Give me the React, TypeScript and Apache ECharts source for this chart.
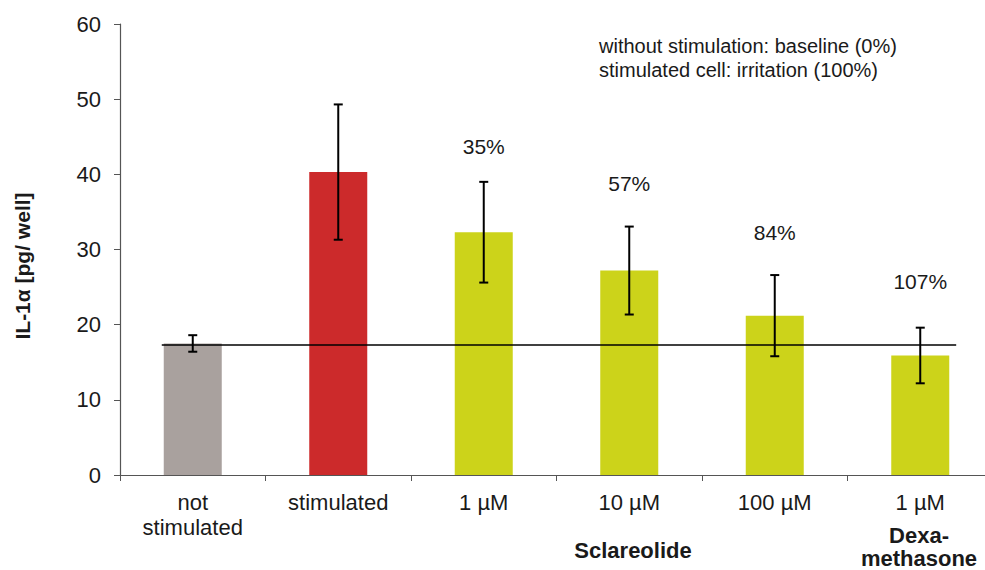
import React, { useEffect, useRef } from "react";
import * as echarts from "echarts";

const categories = ["not\nstimulated", "stimulated", "1 µM", "10 µM", "100 µM", "1 µM"];
const means = [17.5, 40.3, 32.3, 27.2, 21.2, 15.9];
const errors = [1.1, 9.0, 6.7, 5.85, 5.4, 3.7];
const barColors = ["#a9a19e", "#cc2a2b", "#ccd31a", "#ccd31a", "#ccd31a", "#ccd31a"];
const pctLabels = ["", "", "35%", "57%", "84%", "107%"];
const pctLabelY = [null, null, 43.7, 38.8, 32.3, 25.7];
const baseline = 17.3;
const yTicks = { min: 0, max: 60, interval: 10 };

const FONT = "'Liberation Sans', Arial, sans-serif";
const TXT = "#1a1a1a";

export default function App() {
  const ref = useRef<HTMLDivElement>(null);
  useEffect(() => {
    if (!ref.current) return;
    const chart = echarts.init(ref.current, null, { renderer: "svg" });
    const option: any = {
      animation: false,
      textStyle: { fontFamily: FONT },
      grid: { left: 120, top: 24, width: 873, height: 451, outerBoundsMode: "none", containLabel: false },
      xAxis: {
        type: "category",
        data: categories,
        axisLine: { lineStyle: { color: "#555", width: 1.2 } },
        axisTick: { show: true, length: 6, lineStyle: { color: "#555" } },
        axisLabel: {
          interval: 0,
          fontSize: 22,
          color: TXT,
          lineHeight: 25,
          verticalAlign: "top",
          margin: 15,
          fontFamily: FONT,
        },
      },
      yAxis: {
        type: "value",
        min: yTicks.min,
        max: yTicks.max,
        interval: yTicks.interval,
        splitLine: { show: false },
        axisLine: { show: true, lineStyle: { color: "#555", width: 1.2 } },
        axisTick: { show: true, length: 6, lineStyle: { color: "#555" } },
        axisLabel: { fontSize: 22, color: TXT, margin: 19, fontFamily: FONT },
      },
      series: [
        {
          type: "bar",
          barWidth: 58,
          data: means.map((v, i) => ({ value: v, itemStyle: { color: barColors[i] } })),
          z: 1,
        },
        {
          type: "custom",
          z: 3,
          data: [[0, 5, baseline]],
          renderItem: (params: any, api: any) => {
            const c0 = api.coord([api.value(0), api.value(2)]);
            const c5 = api.coord([api.value(1), api.value(2)]);
            const bw = api.size([1, 0])[0];
            return {
              type: "line",
              shape: { x1: c0[0] - bw * 0.213, y1: c0[1], x2: c5[0] + bw * 0.247, y2: c5[1] },
              style: { stroke: "#000", lineWidth: 1.5 },
            };
          },
        },
        {
          type: "custom",
          z: 4,
          data: means.map((m, i) => [i, m - errors[i], m + errors[i]]),
          renderItem: (params: any, api: any) => {
            const x = api.value(0);
            const top = api.coord([x, api.value(2)]);
            const bot = api.coord([x, api.value(1)]);
            const hw = 4.5;
            const st = { stroke: "#000", lineWidth: 2 };
            return {
              type: "group",
              children: [
                { type: "line", shape: { x1: top[0], y1: top[1], x2: bot[0], y2: bot[1] }, style: st },
                { type: "line", shape: { x1: top[0] - hw, y1: top[1], x2: top[0] + hw, y2: top[1] }, style: st },
                { type: "line", shape: { x1: bot[0] - hw, y1: bot[1], x2: bot[0] + hw, y2: bot[1] }, style: st },
              ],
            };
          },
        },
        {
          type: "custom",
          z: 5,
          data: pctLabelY
            .map((y, i) => (y == null ? null : [i, y, i]))
            .filter((d) => d != null),
          renderItem: (params: any, api: any) => {
            const p = api.coord([api.value(0), api.value(1)]);
            return {
              type: "text",
              x: p[0],
              y: p[1],
              style: {
                text: pctLabels[api.value(2)],
                font: `21px ${FONT}`,
                fill: TXT,
                align: "center",
                verticalAlign: "middle",
              },
            };
          },
        },
      ],
      graphic: [
        {
          type: "text",
          x: 22,
          y: 266,
          rotation: Math.PI / 2,
          style: {
            text: "IL-1α [pg/ well]",
            font: `bold 21px ${FONT}`,
            fill: TXT,
            align: "center",
            verticalAlign: "middle",
          },
        },
        {
          type: "text",
          left: 599,
          top: 34,
          style: {
            text: "without stimulation: baseline (0%)\nstimulated cell: irritation (100%)",
            font: `20px ${FONT}`,
            lineHeight: 24,
            fill: TXT,
          },
        },
        {
          type: "text",
          x: 633,
          y: 550,
          style: {
            text: "Sclareolide",
            font: `bold 22px ${FONT}`,
            fill: TXT,
            align: "center",
            verticalAlign: "middle",
          },
        },
        {
          type: "text",
          x: 919,
          y: 535,
          style: {
            text: "Dexa-",
            font: `bold 22px ${FONT}`,
            lineHeight: 22,
            fill: TXT,
            align: "center",
            verticalAlign: "middle",
          },
        },
        {
          type: "text",
          x: 919,
          y: 558,
          style: {
            text: "methasone",
            font: `bold 22px ${FONT}`,
            lineHeight: 22,
            fill: TXT,
            align: "center",
            verticalAlign: "middle",
          },
        },
      ],
    };
    chart.setOption(option);
    return () => chart.dispose();
  }, []);
  return (
    <div
      ref={ref}
      style={{ position: "fixed", left: 0, top: 0, width: 985, height: 570, background: "#fff" }}
    />
  );
}
